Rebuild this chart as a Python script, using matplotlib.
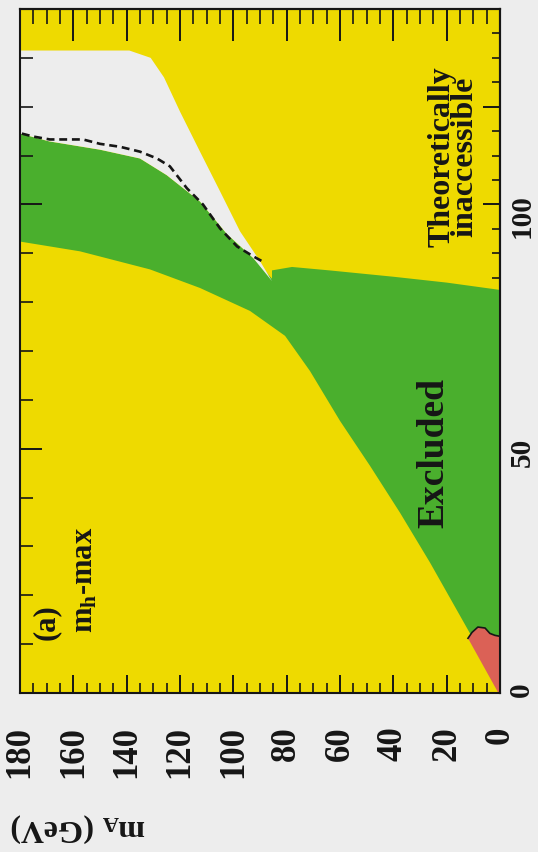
import matplotlib.pyplot as plt
from matplotlib.ticker import MultipleLocator, FixedLocator, NullLocator

# m_A (GeV) runs left <- right (180 .. 0), m_h (GeV) runs bottom -> top (0 .. 140)
theory_mA = [180, 139, 131, 126, 120, 112.5, 105, 97.5, 90, 85.5]
theory_mh = [131.5, 131.5, 130, 126, 119, 110.8, 102.7, 94.5, 88.4, 84.3]

green_top_mA = [85.5, 92.5, 102.5, 112.5, 125, 135, 150, 169, 180]
green_top_mh = [84.8, 89, 94, 100.6, 106, 109.4, 111.2, 112.9, 114.5]

green_right_mA = [85.5, 78, 64, 40, 20, 0]
green_right_mh = [86.5, 87.2, 86.5, 85.2, 84, 82.5]

green_low_mA = [0, 0.75, 11.25, 26.25, 37.5, 48.75, 60, 71.25, 80.6, 93.75, 112.5, 131.25, 157.5, 180]
green_low_mh = [0, 0.6, 12.2, 26.7, 36.9, 46.5, 55.7, 65.9, 73.1, 78.2, 82.9, 86.7, 90.4, 92.4]

red_mA = [12, 10.5, 8.3, 5.6, 3.8, 1.9, 0, 0, 0.6]
red_mh = [11.2, 12.4, 13.5, 13.3, 12.2, 11.8, 11.6, 0, 0]

dash_mA = [179.3, 175.1, 168.8, 156.4, 150, 142.5, 135, 128.6, 123.8, 117.4, 111.4, 105, 98.6, 92.6, 89.3]
dash_mh = [114.5, 113.9, 113.3, 113.3, 112.4, 111.8, 110.8, 109.4, 107.8, 103.3, 100, 95.1, 91.4, 89.4, 88.4]

mA_ticks = [0, 20, 40, 60, 80, 100, 120, 140, 160, 180]
mh_labels = [0, 50, 100]

YELLOW = "#EEDA00"
GREEN = "#4AAF2D"
PALE = "#EDEDED"
RED = "#DB6156"
INK = "#161616"

plt.rcParams["font.family"] = ["Liberation Serif", "DejaVu Serif"]
plt.rcParams["font.weight"] = "bold"
plt.rcParams["mathtext.fontset"] = "custom"
plt.rcParams["mathtext.rm"] = "Liberation Serif:bold"
plt.rcParams["mathtext.it"] = "Liberation Serif:bold"
plt.rcParams["mathtext.bf"] = "Liberation Serif:bold"

fig = plt.figure(figsize=(5.38, 8.52), dpi=100, facecolor=PALE)
ax = fig.add_axes([20 / 538, 1 - 693 / 852, 480 / 538, 684 / 852])
ax.set_facecolor(YELLOW)

# excluded band
gx = green_top_mA[::-1] + green_right_mA + green_low_mA
gy = green_top_mh[::-1] + green_right_mh + green_low_mh
ax.fill(gx, gy, color=GREEN, lw=0)

# allowed (white) wedge
wx = theory_mA + green_top_mA[1:]
wy = theory_mh + green_top_mh[1:]
ax.fill(wx, wy, color=PALE, lw=0)

ax.fill(red_mA, red_mh, color=RED, lw=0)
ax.plot(red_mA[:7], red_mh[:7], color=INK, lw=1.2)

ax.plot(dash_mA, dash_mh, color=INK, lw=1.9, dashes=(3, 1.8))

ax.set_xlim(180, 0)
ax.set_ylim(0, 140)

for sp in ax.spines.values():
    sp.set_linewidth(1.5)
    sp.set_color(INK)

# bottom: labelled m_A axis
ax.xaxis.set_major_locator(FixedLocator(mA_ticks))
ax.xaxis.set_minor_locator(MultipleLocator(5))
ax.tick_params(axis="x", which="major", direction="in", length=13, width=1.4,
               color=INK, labelsize=25, labelrotation=90, pad=24, labelcolor=INK)
ax.tick_params(axis="x", which="minor", direction="in", length=7, width=1.2, color=INK)

# left: plain ticks
ax.yaxis.set_major_locator(FixedLocator(mh_labels))
ax.yaxis.set_minor_locator(MultipleLocator(10))
ax.tick_params(axis="y", which="major", direction="in", length=16, width=1.4,
               color=INK, labelleft=False)
ax.tick_params(axis="y", which="minor", direction="in", length=9, width=1.2, color=INK)

top = ax.secondary_xaxis("top")
top.xaxis.set_major_locator(MultipleLocator(20))
top.xaxis.set_minor_locator(MultipleLocator(5))
top.tick_params(which="major", direction="in", length=23, width=1.4, color=INK, labeltop=False)
top.tick_params(which="minor", direction="in", length=11, width=1.2, color=INK)
top.spines["top"].set_linewidth(1.5)

right = ax.secondary_yaxis("right")
right.yaxis.set_major_locator(MultipleLocator(20))
right.yaxis.set_minor_locator(MultipleLocator(5))
right.tick_params(which="major", direction="in", length=12, width=1.4, color=INK, labelright=False)
right.tick_params(which="minor", direction="in", length=6, width=1.2, color=INK)
right.spines["right"].set_linewidth(1.5)

right_lab = ax.secondary_yaxis("right")
right_lab.yaxis.set_major_locator(FixedLocator(mh_labels))
right_lab.yaxis.set_minor_locator(NullLocator())
right_lab.tick_params(which="major", length=0, labelsize=21, labelrotation=90, pad=6,
                      labelcolor=INK)
right_lab.spines["right"].set_visible(False)

ax.text(17.5, 109.8, "Theoretically\ninaccessible", rotation=90, ha="center", va="center",
        multialignment="center", linespacing=0.72, fontsize=23, color=INK)
ax.text(24.8, 49.2, "Excluded", rotation=90, ha="center", va="center",
        fontsize=27, color=INK)
ax.text(170, 14.5, "(a)", rotation=90, ha="center", va="center", fontsize=22, color=INK)
ax.text(155.6, 23.1, r"m$_{h}$-max", rotation=90, ha="center", va="center",
        fontsize=22, color=INK)

fig.text(78 / 538, 1 - 828 / 852, r"m$_{A}$ (GeV)", rotation=180, ha="center",
         va="center", fontsize=23, color=INK)

fig.savefig("out.png", dpi=100, facecolor=fig.get_facecolor())
